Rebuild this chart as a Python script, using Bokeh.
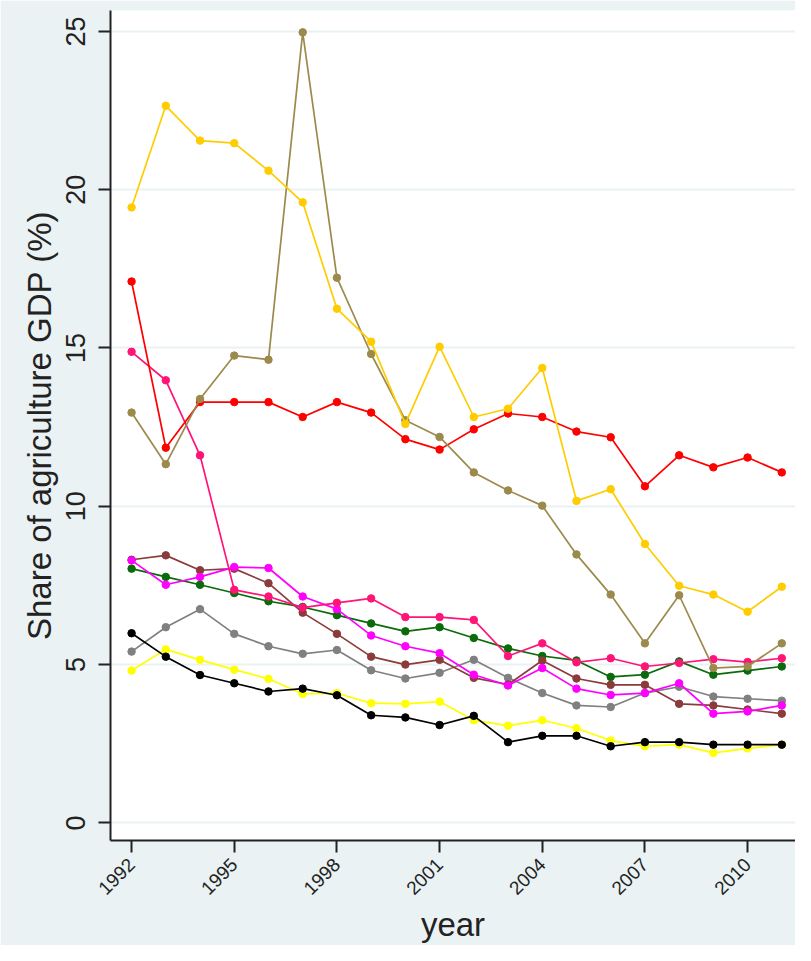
import math
from bokeh.plotting import figure
from bokeh.models import Range1d, FixedTicker, ColumnDataSource
from bokeh.embed import file_html
from bokeh.resources import INLINE

years = list(range(1992, 2012))

gold = [19.44, 22.65, 21.55, 21.47, 20.6, 19.6, 16.24, 15.2, 12.6, 15.04,
        12.82, 13.08, 14.37, 10.17, 10.54, 8.81, 7.49, 7.21, 6.67, 7.46]
olive = [12.96, 11.33, 13.39, 14.76, 14.63, 24.97, 17.22, 14.81, 12.72, 12.19,
         11.07, 10.50, 10.02, 8.48, 7.21, 5.67, 7.19, 4.89, 4.94, 5.67]
red = [17.1, 11.85, 13.29, 13.29, 13.29, 12.82, 13.29, 12.96, 12.12, 11.79,
       12.43, 12.93, 12.82, 12.36, 12.18, 10.63, 11.61, 11.23, 11.54, 11.07]
pink = [14.88, 13.98, 11.61, 7.36, 7.15, 6.8, 6.95, 7.09, 6.5, 6.5,
        6.41, 5.27, 5.67, 5.07, 5.2, 4.94, 5.05, 5.17, 5.08, 5.2]
magenta = [8.29, 7.52, 7.77, 8.08, 8.05, 7.15, 6.75, 5.92, 5.58, 5.36,
           4.68, 4.34, 4.89, 4.24, 4.04, 4.10, 4.41, 3.45, 3.52, 3.71]
brown = [8.31, 8.45, 7.98, 8.03, 7.57, 6.64, 5.97, 5.25, 5.0, 5.15,
         4.58, 4.37, 5.13, 4.56, 4.36, 4.36, 3.76, 3.71, 3.58, 3.45]
green = [8.03, 7.77, 7.52, 7.26, 7.0, 6.82, 6.56, 6.30, 6.05, 6.18,
         5.84, 5.51, 5.27, 5.13, 4.61, 4.68, 5.10, 4.68, 4.81, 4.94]
gray = [5.41, 6.18, 6.75, 5.97, 5.58, 5.34, 5.46, 4.82, 4.56, 4.74,
        5.15, 4.58, 4.10, 3.71, 3.66, 4.10, 4.30, 3.99, 3.92, 3.86]
yellow = [4.81, 5.48, 5.15, 4.84, 4.55, 4.07, 4.10, 3.78, 3.76, 3.83,
          3.24, 3.07, 3.24, 2.99, 2.60, 2.42, 2.47, 2.21, 2.35, 2.47]
black = [5.99, 5.25, 4.67, 4.41, 4.15, 4.24, 4.03, 3.40, 3.33, 3.09,
         3.38, 2.55, 2.75, 2.75, 2.42, 2.55, 2.55, 2.47, 2.47, 2.47]

x_ticks = [1992, 1995, 1998, 2001, 2004, 2007, 2010]
y_ticks = [0, 5, 10, 15, 20, 25]

series = [
    (yellow, "#FFFF00"),
    (gray, "#808080"),
    (green, "#0B6B0B"),
    (brown, "#8C3B3B"),
    (magenta, "#FF00FF"),
    (pink, "#FF1478"),
    (red, "#FF0000"),
    (olive, "#9C8A4D"),
    (gold, "#FFCC00"),
    (black, "#000000"),
]

BG = "#EAF2F3"
FONT = "Liberation Sans"

p = figure(width=795, height=945, output_backend="svg", toolbar_location=None,
           x_range=Range1d(1991.384, 2011.40), y_range=Range1d(-0.557, 25.66),
           min_border_left=110, min_border_right=0, min_border_top=10,
           min_border_bottom=101)
p.background_fill_color = "white"
p.border_fill_color = BG
p.outline_line_color = None

for vals, col in series:
    src = ColumnDataSource(dict(x=years, y=vals))
    p.line("x", "y", source=src, line_color=col, line_width=1.7)
    p.scatter("x", "y", source=src, marker="circle", size=7.5,
              fill_color=col, line_color=col)

p.xgrid.visible = False
p.ygrid.ticker = FixedTicker(ticks=y_ticks)
p.ygrid.grid_line_color = BG
p.ygrid.grid_line_width = 2

xa = p.xaxis[0]
xa.ticker = FixedTicker(ticks=x_ticks)
xa.axis_label = "year"
xa.major_label_orientation = math.pi / 4
xa.major_label_text_font = FONT
xa.major_label_text_font_size = "19px"
xa.major_label_text_color = "#222222"
xa.major_label_standoff = 9
xa.axis_label_text_font = FONT
xa.axis_label_text_font_size = "33px"
xa.axis_label_text_font_style = "normal"
xa.axis_label_text_color = "#222222"
xa.axis_label_standoff = 2

ya = p.yaxis[0]
ya.ticker = FixedTicker(ticks=y_ticks)
ya.axis_label = "Share of agriculture GDP (%)"
ya.major_label_orientation = "vertical"
ya.major_label_text_font = FONT
ya.major_label_text_font_size = "27px"
ya.major_label_text_color = "#222222"
ya.major_label_standoff = 13
ya.axis_label_text_font = FONT
ya.axis_label_text_font_size = "33px"
ya.axis_label_text_font_style = "normal"
ya.axis_label_text_color = "#222222"
ya.axis_label_standoff = 6

for ax in (xa, ya):
    ax.axis_line_color = "#222222"
    ax.axis_line_width = 2
    ax.major_tick_line_color = "#222222"
    ax.major_tick_line_width = 2
    ax.major_tick_out = 12
    ax.major_tick_in = 0
    ax.minor_tick_line_color = None

open("out.html", "w").write(file_html(p, INLINE))
